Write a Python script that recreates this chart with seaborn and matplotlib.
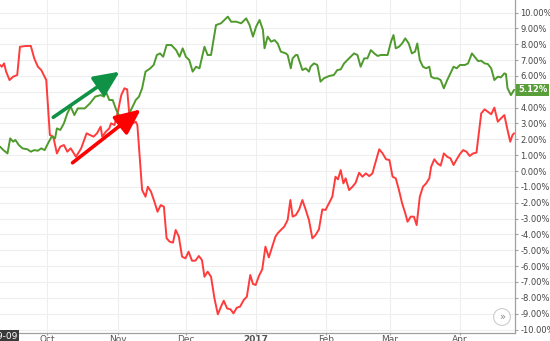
import numpy as np
import pandas as pd
import matplotlib
matplotlib.use("Agg")
import matplotlib.pyplot as plt
import matplotlib.dates as mdates
import matplotlib.transforms as mtransforms
import seaborn as sns

# ---------------- data ----------------
start = pd.Timestamp("2016-09-01")

green_day = [9.1, 10.6, 12.4, 13.6, 14.9, 15.9, 17.4, 19.0, 21.2, 22.7, 24.2, 25.8, 27.3, 28.8,
             30.3, 31.9, 33.4, 34.2, 35.7, 37.3, 38.8, 40.3, 41.9, 43.4, 46.5, 48.8, 51.1, 53.5,
             55.0, 55.8, 57.3, 58.8, 60.4, 61.9, 63.3, 66.1, 67.6, 69.0, 70.4, 71.8, 73.3, 75.4,
             76.9, 78.3, 79.7, 81.1, 82.6, 84.7, 86.8, 88.3, 89.7, 91.1, 92.6, 94.1, 95.6, 97.1,
             99.3, 100.7, 102.2, 104.4, 106.6, 108.1, 109.6, 111.1, 113.3, 115.5, 117.7, 119.2,
             120.7, 122.1, 123.6, 125.1, 125.8, 127.2, 128.7, 130.2, 131.6, 133.0, 135.2, 136.0,
             137.4, 138.2, 139.6, 140.3, 142.5, 144.0, 145.4, 146.1, 147.6, 149.1, 150.5, 152.0,
             154.2, 156.4, 157.9, 159.4, 160.9, 163.1, 165.3, 166.8, 168.2, 169.8, 171.2, 172.7,
             174.2, 175.7, 177.1, 180.1, 181.6, 182.7, 183.7, 185.1, 186.5, 187.9, 189.4, 190.8,
             192.2, 193.2, 194.3, 195.7, 197.1, 198.5, 199.3, 200.7, 202.1, 203.5, 204.9, 206.4,
             207.8, 209.2, 210.6, 212.0, 214.2, 215.6, 217.3, 218.5, 220.0, 221.4, 222.9, 224.3,
             225.8, 227.2, 228.7, 230.1, 231.6, 232.3, 233.0, 234.5, 235.9]
green_pct = [1.54, 1.32, 1.11, 2.06, 1.85, 1.96, 1.64, 1.43, 1.37, 1.22, 1.32, 1.28, 1.43, 1.32,
             1.75, 2.17, 2.06, 2.69, 2.59, 3.01, 3.64, 4.06, 3.53, 3.95, 3.95, 4.27, 4.69, 4.79,
             4.69, 5.01, 4.48, 4.48, 3.85, 3.43, 3.43, 3.64, 4.06, 4.48, 4.69, 5.22, 6.27, 6.48,
             6.69, 7.32, 7.42, 7.21, 7.95, 7.95, 7.63, 7.21, 7.74, 7.21, 7.00, 6.27, 6.58, 6.48,
             7.84, 7.32, 7.32, 9.21, 9.32, 9.53, 9.74, 9.42, 9.42, 9.32, 9.63, 9.21,
             8.48, 9.11, 9.53, 8.90, 7.74, 8.48, 8.16, 8.26, 8.05, 7.53, 7.42, 7.32,
             6.48, 7.11, 7.32, 7.32, 6.37, 6.48, 6.27, 6.58, 6.79, 6.69, 5.64, 5.85,
             5.99, 6.06, 6.37, 6.41, 6.79, 7.11, 7.42, 7.32, 6.58, 7.11, 7.11, 7.63,
             7.42, 7.26, 7.32, 7.32, 8.16, 8.58, 7.74, 7.84, 8.05, 8.37, 8.05, 7.42,
             7.53, 8.05, 7.00, 6.58, 6.48, 6.58, 5.95, 5.85, 5.85, 5.74, 5.22, 5.74,
             6.16, 6.58, 6.48, 6.69, 6.69, 6.79, 7.42, 7.21, 6.94, 6.96, 6.79, 6.75,
             6.48, 5.74, 5.95, 5.91, 6.16, 6.12, 5.22, 4.79, 5.12]

red_day = [9.1, 9.9, 10.9, 11.8, 13.3, 14.9, 16.7, 17.9, 20.5, 22.7, 24.2, 25.8, 27.3, 29.5,
           31.1, 32.6, 34.2, 35.7, 37.3, 38.8, 40.3, 42.6, 44.9, 47.3, 48.8, 50.4, 51.9, 53.5,
           54.2, 55.8, 57.3, 58.1, 59.6, 61.1, 62.6, 64.0, 65.2, 66.1, 67.6, 69.0, 69.7, 70.4,
           71.2, 71.8, 73.3, 74.3, 75.7, 77.2, 78.6, 80.0, 81.4, 82.6, 84.0, 85.4, 86.6, 88.0,
           89.4, 90.9, 92.3, 93.8, 95.3, 96.8, 98.2, 99.3, 100.7, 102.2, 103.7, 105.2, 106.6,
           107.8, 109.3, 110.8, 112.1, 113.6, 115.0, 116.6, 118.0, 119.5, 120.7, 121.9, 123.3,
           124.8, 126.2, 127.7, 129.4, 130.6, 131.6, 133.0, 134.5, 136.0, 137.2, 138.2, 139.6,
           141.1, 142.5, 144.0, 145.4, 146.9, 148.3, 149.8, 151.3, 152.7, 154.2, 155.7, 157.1,
           158.2, 159.4, 160.6, 161.6, 163.1, 164.6, 166.0, 167.5, 169.0, 170.5, 172.0, 173.4,
           174.2, 176.4, 177.9, 179.4, 180.9, 182.3, 183.7, 185.1, 186.5, 187.9, 188.9, 190.3,
           191.7, 192.9, 194.3, 195.7, 197.1, 198.5, 199.3, 200.7, 202.1, 203.5, 204.9, 206.4,
           207.8, 209.2, 210.6, 212.0, 213.4, 214.9, 216.3, 217.8, 219.3, 221.4, 222.9, 224.3,
           225.8, 227.2, 228.7, 230.1, 231.6, 233.0, 234.2, 235.2, 235.9]
red_pct = [6.69, 6.58, 6.79, 6.27, 5.74, 5.95, 6.06, 7.84, 7.89, 7.89, 7.11, 6.58, 6.37, 5.74,
           2.27, 2.17, 1.11, 1.54, 1.64, 1.22, 1.43, 0.90, 1.43, 2.38, 2.27, 2.17, 2.38, 2.80,
           2.17, 2.48, 2.69, 3.01, 2.90, 3.74, 4.79, 5.22, 5.15, 3.64, 3.01, 3.11, 2.90, 1.54,
           0.06, -1.20, -1.62, -0.99, -1.30, -1.93, -2.57, -2.15, -2.25, -4.25, -4.46, -4.52, -3.72, -4.14,
           -5.40, -5.51, -5.09, -5.66, -5.66, -5.36, -5.62, -6.67, -6.35, -6.67, -8.03, -9.04, -8.56,
           -8.18, -8.67, -8.73, -8.98, -8.62, -8.56, -8.14, -7.93, -6.56, -7.13, -7.19, -6.63,
           -6.20, -4.77, -5.45, -4.67, -4.14, -3.93, -3.72, -3.51, -3.09, -1.83, -2.88, -2.78,
           -2.42, -1.83, -2.46, -3.09, -4.25, -4.04, -3.68, -2.42, -2.46, -2.04, -1.62, -0.36,
           -0.53, 0.06, -0.78, -0.46, -1.20, -0.99, -0.74, -0.11, -0.36, -0.15, -0.32, -0.15,
           0.27, 1.37, 1.11, 0.74, 0.69, -0.36, -0.46, -1.20, -2.04, -2.67, -3.20, -2.88,
           -2.88, -3.41, -1.62, -0.99, -0.78, -0.46, 0.27, 0.74, 0.48, 0.34, 1.11, 0.90,
           0.80, 0.38, 0.74, 1.07, 1.32, 1.22, 0.95, 1.11, 1.16, 3.64, 3.89, 3.74,
           3.58, 4.00, 3.11, 3.32, 3.53, 2.59, 1.85, 2.27, 2.38]

month_ticks = ["2016-10-01", "2016-11-01", "2016-12-01", "2017-01-01",
               "2017-02-01", "2017-03-01", "2017-04-01"]
month_labels = ["Oct", "Nov", "Dec", "2017", "Feb", "Mar", "Apr"]
y_ticks = list(range(-10, 11))
last_value_label = "5.12%"
hover_label = "2016-09-09"

# arrows (day offset, pct): tail -> head
green_arrow = [(32.6, 3.39), (61.9, 6.27)]
red_arrow = [(41.1, 0.52), (71.2, 3.89)]

GREEN = "#4f9a2c"
RED = "#ff3b3b"

# ---------------- plot ----------------
sns.set_style("white")
plt.rcParams["font.family"] = ["DejaVu Sans"]

fig = plt.figure(figsize=(5.5, 3.41), dpi=100)
ax = fig.add_axes([0, 8 / 341, 515 / 550, 333 / 341])

df_g = pd.DataFrame({"date": start + pd.to_timedelta(green_day, unit="D"), "pct": green_pct})
df_r = pd.DataFrame({"date": start + pd.to_timedelta(red_day, unit="D"), "pct": red_pct})

sns.lineplot(data=df_r, x="date", y="pct", color=RED, lw=1.4, ax=ax, zorder=3)
sns.lineplot(data=df_g, x="date", y="pct", color=GREEN, lw=1.4, ax=ax, zorder=3)

ax.set_xlim(start + pd.Timedelta(days=9.1), start + pd.Timedelta(days=236.3))
ax.set_ylim(-10.22, 10.79)

ax.set_xlabel("")
ax.set_ylabel("")
ax.yaxis.tick_right()
ax.set_yticks(y_ticks)
# the 5.00% label sits behind the last-value badge in the reference
ax.set_yticklabels(["" if v == 5 else f"{v:.2f}%" for v in y_ticks])
ax.set_xticks(pd.to_datetime(month_ticks))
ax.set_xticklabels(month_labels)
for lbl in ax.get_xticklabels():
    if lbl.get_text() == "2017":
        lbl.set_fontweight("bold")

ax.grid(True, color="#eeeeee", lw=0.8)
ax.set_axisbelow(True)
for s in ["top", "left"]:
    ax.spines[s].set_visible(False)
for s in ["right", "bottom"]:
    ax.spines[s].set_color("#a0a0a0")
    ax.spines[s].set_linewidth(0.9)

ax.tick_params(axis="y", which="both", right=True, left=False, length=2.5, width=0.8,
               color="#a0a0a0", labelsize=6.0, labelcolor="#444444", pad=1.2)
ax.tick_params(axis="x", which="both", bottom=True, length=1.5, width=0.8,
               color="#a0a0a0", labelsize=6.5, labelcolor="#555555", pad=0.3)

# arrows
for (tail, head), col in [(green_arrow, "#0f9146"), (red_arrow, "#ff0000")]:
    t = (mdates.date2num(start + pd.Timedelta(days=tail[0])), tail[1])
    h = (mdates.date2num(start + pd.Timedelta(days=head[0])), head[1])
    ax.annotate("", xy=h, xytext=t,
                arrowprops=dict(arrowstyle="-|>,head_length=1.1,head_width=0.5",
                                color=col, lw=2.6, mutation_scale=14,
                                shrinkA=0, shrinkB=0), zorder=5)

# last value label
trans = mtransforms.blended_transform_factory(ax.transAxes, ax.transData)
ax.text(1.006, green_pct[-1], last_value_label, transform=trans, ha="left", va="center",
        fontsize=6.0, color="white", fontweight="bold", clip_on=False, zorder=10,
        bbox=dict(boxstyle="square,pad=0.2", fc="#5a9e3a", ec="none"))

# hover date label bottom-left
fig.text(17.5 / 550, 0.2 / 341, hover_label, ha="right", va="bottom", fontsize=6.5,
         color="white", bbox=dict(boxstyle="square,pad=0.2", fc="#3a3a3a", ec="none"))

# scroll button
fig.text(502 / 550, 1 - 317 / 341, "»", ha="center", va="center", fontsize=7,
         color="#888888",
         bbox=dict(boxstyle="circle,pad=0.35", fc="white", ec="#cccccc", lw=0.8))

fig.savefig("out.png", dpi=100)
